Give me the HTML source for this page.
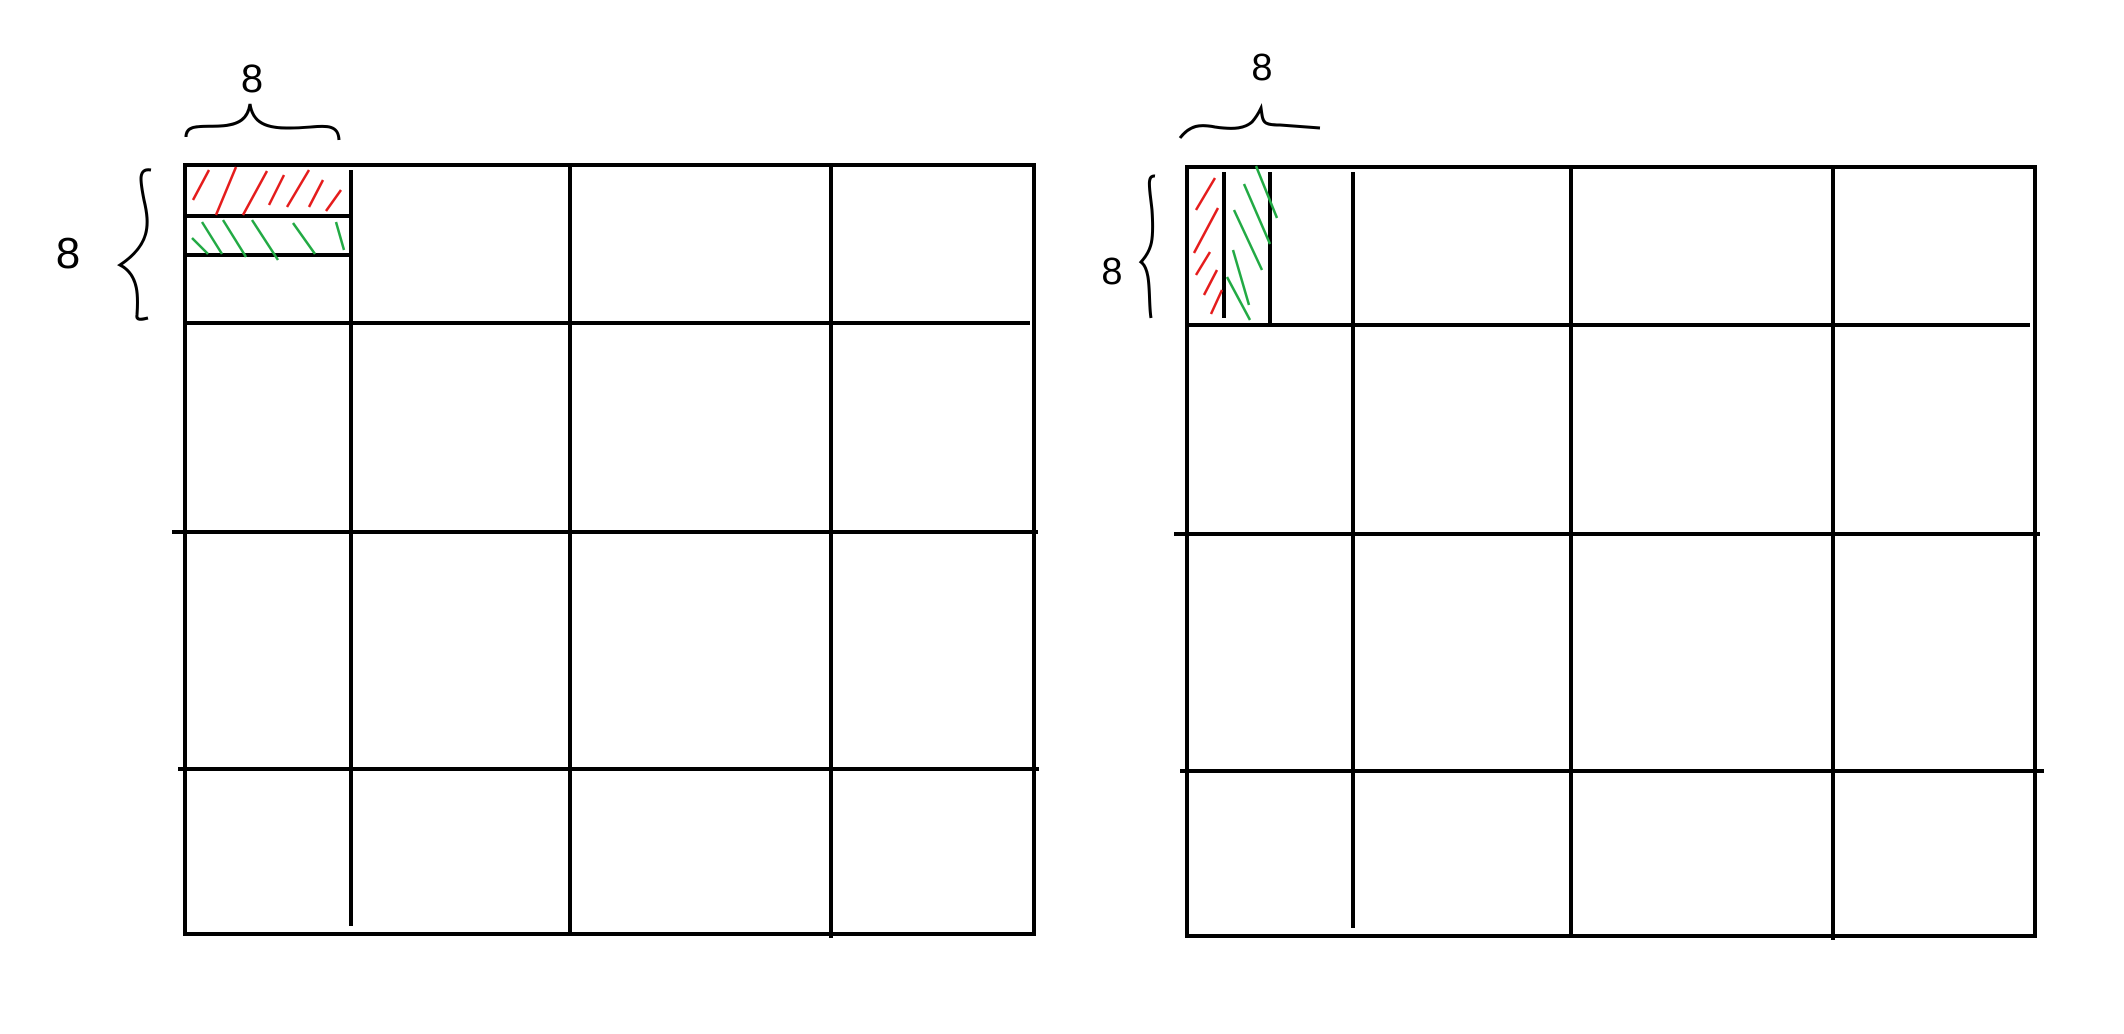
<!DOCTYPE html>
<html><head><meta charset="utf-8"><style>
html,body{margin:0;padding:0;background:#fff;width:2124px;height:1034px;overflow:hidden}
svg{display:block}
</style></head><body>
<svg width="2124" height="1034" viewBox="0 0 2124 1034">
<g id="left" stroke="#000" stroke-width="4" fill="none">
<rect x="185" y="165" width="849" height="769"/>
<line x1="351" y1="170" x2="351" y2="926"/>
<line x1="570" y1="165" x2="570" y2="934"/>
<line x1="831" y1="165" x2="831" y2="938"/>
<line x1="185" y1="323" x2="1030" y2="323"/>
<line x1="172" y1="532" x2="1038" y2="532"/>
<line x1="178" y1="769" x2="1039" y2="769"/>
<line x1="185" y1="216" x2="351" y2="216"/>
<line x1="185" y1="255" x2="351" y2="255"/>
<path d="M186 137 C186 124 200 127 220 126 C240 125 248 118 250 104 C252 118 260 129 290 128 C320 128 338 120 339 140" stroke-width="3"/>
<path d="M151 170 C138 168 140 180 144 200 C150 225 150 245 120 265 C140 275 138 300 137 315 C136 320 140 320 148 318" stroke-width="3"/>
</g>
<g stroke="#e51c1c" stroke-width="2.5">
<line x1="193" y1="200" x2="209" y2="170"/><line x1="216" y1="215" x2="236" y2="167"/>
<line x1="243" y1="215" x2="267" y2="171"/><line x1="269" y1="205" x2="284" y2="175"/>
<line x1="287" y1="207" x2="309" y2="170"/><line x1="309" y1="207" x2="323" y2="180"/>
<line x1="326" y1="211" x2="341" y2="190"/>
</g>
<g stroke="#22aa44" stroke-width="2.5">
<line x1="192" y1="238" x2="208" y2="254"/><line x1="202" y1="222" x2="222" y2="254"/>
<line x1="223" y1="220" x2="246" y2="257"/><line x1="252" y1="220" x2="278" y2="260"/>
<line x1="293" y1="223" x2="315" y2="254"/><line x1="336" y1="222" x2="344" y2="250"/>
</g>
<text x="252" y="92" font-family="Liberation Sans, sans-serif" font-size="40" text-anchor="middle">8</text>
<text x="68" y="268" font-family="Liberation Sans, sans-serif" font-size="44" text-anchor="middle">8</text>

<g id="right" stroke="#000" stroke-width="4" fill="none">
<rect x="1187" y="167" width="848" height="769"/>
<line x1="1353" y1="172" x2="1353" y2="928"/>
<line x1="1571" y1="167" x2="1571" y2="936"/>
<line x1="1833" y1="167" x2="1833" y2="940"/>
<line x1="1187" y1="325" x2="2030" y2="325"/>
<line x1="1174" y1="534" x2="2040" y2="534"/>
<line x1="1180" y1="771" x2="2044" y2="771"/>
<line x1="1224" y1="172" x2="1224" y2="318"/>
<line x1="1270" y1="172" x2="1270" y2="325"/>
<path d="M1180 138 C1190 125 1200 124 1215 127 C1235 130 1245 128 1252 122 C1258 115 1260 110 1261 108 C1263 122 1262 125 1280 125 L1320 128" stroke-width="3"/>
<path d="M1155 176 C1146 175 1150 190 1152 210 C1154 240 1152 250 1141 262 C1152 270 1148 300 1151 318" stroke-width="3"/>
</g>
<g stroke="#e51c1c" stroke-width="2.5">
<line x1="1196" y1="210" x2="1215" y2="178"/><line x1="1194" y1="253" x2="1218" y2="208"/>
<line x1="1196" y1="275" x2="1210" y2="252"/><line x1="1204" y1="295" x2="1217" y2="270"/>
<line x1="1211" y1="314" x2="1222" y2="290"/>
</g>
<g stroke="#22aa44" stroke-width="2.5">
<line x1="1256" y1="166" x2="1277" y2="218"/><line x1="1244" y1="184" x2="1270" y2="244"/>
<line x1="1234" y1="210" x2="1262" y2="270"/><line x1="1233" y1="250" x2="1249" y2="305"/>
<line x1="1227" y1="277" x2="1250" y2="320"/>
</g>
<text x="1262" y="80" font-family="Liberation Sans, sans-serif" font-size="38" text-anchor="middle">8</text>
<text x="1112" y="284" font-family="Liberation Sans, sans-serif" font-size="38" text-anchor="middle">8</text>
</svg>
</body></html>
